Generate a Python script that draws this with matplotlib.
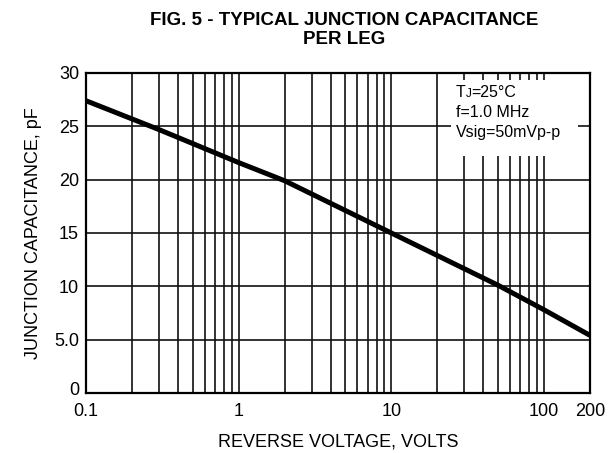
import numpy as np
import matplotlib
matplotlib.use("Agg")
import matplotlib.pyplot as plt
from matplotlib.patches import Rectangle
from matplotlib.ticker import LogLocator, FixedLocator, NullFormatter
from matplotlib.transforms import ScaledTranslation

plt.rcParams["font.family"] = ["Liberation Sans", "DejaVu Sans"]

# curve
volts = [0.1, 0.3, 1, 2, 10, 50, 100, 200]
cap_pf = [27.4, 24.7, 21.6, 19.9, 15.0, 10.1, 7.8, 5.4]

x_ticks = [0.1, 1, 10, 100, 200]
x_labels = ["0.1", "1", "10", "100", "200"]
y_ticks = [0, 5, 10, 15, 20, 25, 30]
y_labels = ["0", "5.0", "10", "15", "20", "25", "30"]

notes = ["=25\u00b0C", "f=1.0 MHz", "Vsig=50mVp-p"]

fig = plt.figure(figsize=(6.09, 4.53), dpi=100)
ax = fig.add_axes([86/609, 1-393/453, 504/609, 320/453])

ax.plot(volts, cap_pf, color="black", lw=3.6, solid_capstyle="butt", zorder=3)

ax.set_xscale("log")
ax.set_xlim(0.1, 200)
ax.set_ylim(0, 30)

ax.xaxis.set_major_locator(FixedLocator(x_ticks))
ax.set_xticklabels(x_labels)
ax.xaxis.set_minor_locator(LogLocator(base=10, subs=np.arange(2, 10), numticks=20))
ax.xaxis.set_minor_formatter(NullFormatter())
ax.set_yticks(y_ticks)
ax.set_yticklabels(y_labels)

ax.tick_params(which="both", length=0, labelsize=13, colors="black")
ax.tick_params(axis="x", pad=7)
ax.tick_params(axis="y", pad=5)
ax.grid(which="both", color="#111111", lw=1.2)
for s in ax.spines.values():
    s.set_linewidth(1.6)

# nudge the "0" up a bit so it clears the "0.1"
lab0 = ax.get_yticklabels()[0]
lab0.set_transform(lab0.get_transform() + ScaledTranslation(0, 3/72, fig.dpi_scale_trans))

# blank area behind the conditions text
ax.add_patch(Rectangle((24.5, 22.2), 166 - 24.5, 29.35 - 22.2,
                       facecolor="white", edgecolor="none", zorder=2))

# first line: T with a small J, then the rest
t = ax.text(26.5, 28.15, "T", fontsize=11.5, va="center", ha="left", zorder=4)
j = ax.annotate("J", xy=(1, 0), xycoords=t, fontsize=8.5, va="bottom", ha="left", zorder=4)
ax.annotate(notes[0], xy=(1, 0), xycoords=j, fontsize=11.5, va="bottom", ha="left", zorder=4)
for i, s in enumerate(notes[1:], start=1):
    ax.text(26.5, 28.15 - i * 1.85, s, fontsize=11.5, va="center", ha="left", zorder=4)

ax.set_xlabel("REVERSE VOLTAGE, VOLTS", fontsize=13, labelpad=10)
ax.set_ylabel("JUNCTION CAPACITANCE, pF", fontsize=13, labelpad=9)
fig.text(344/609, 1-30/453, "FIG. 5 - TYPICAL JUNCTION CAPACITANCE\nPER LEG",
         ha="center", va="center", fontsize=13.5, fontweight="bold", linespacing=1.15)

fig.savefig("out.png", dpi=100)
